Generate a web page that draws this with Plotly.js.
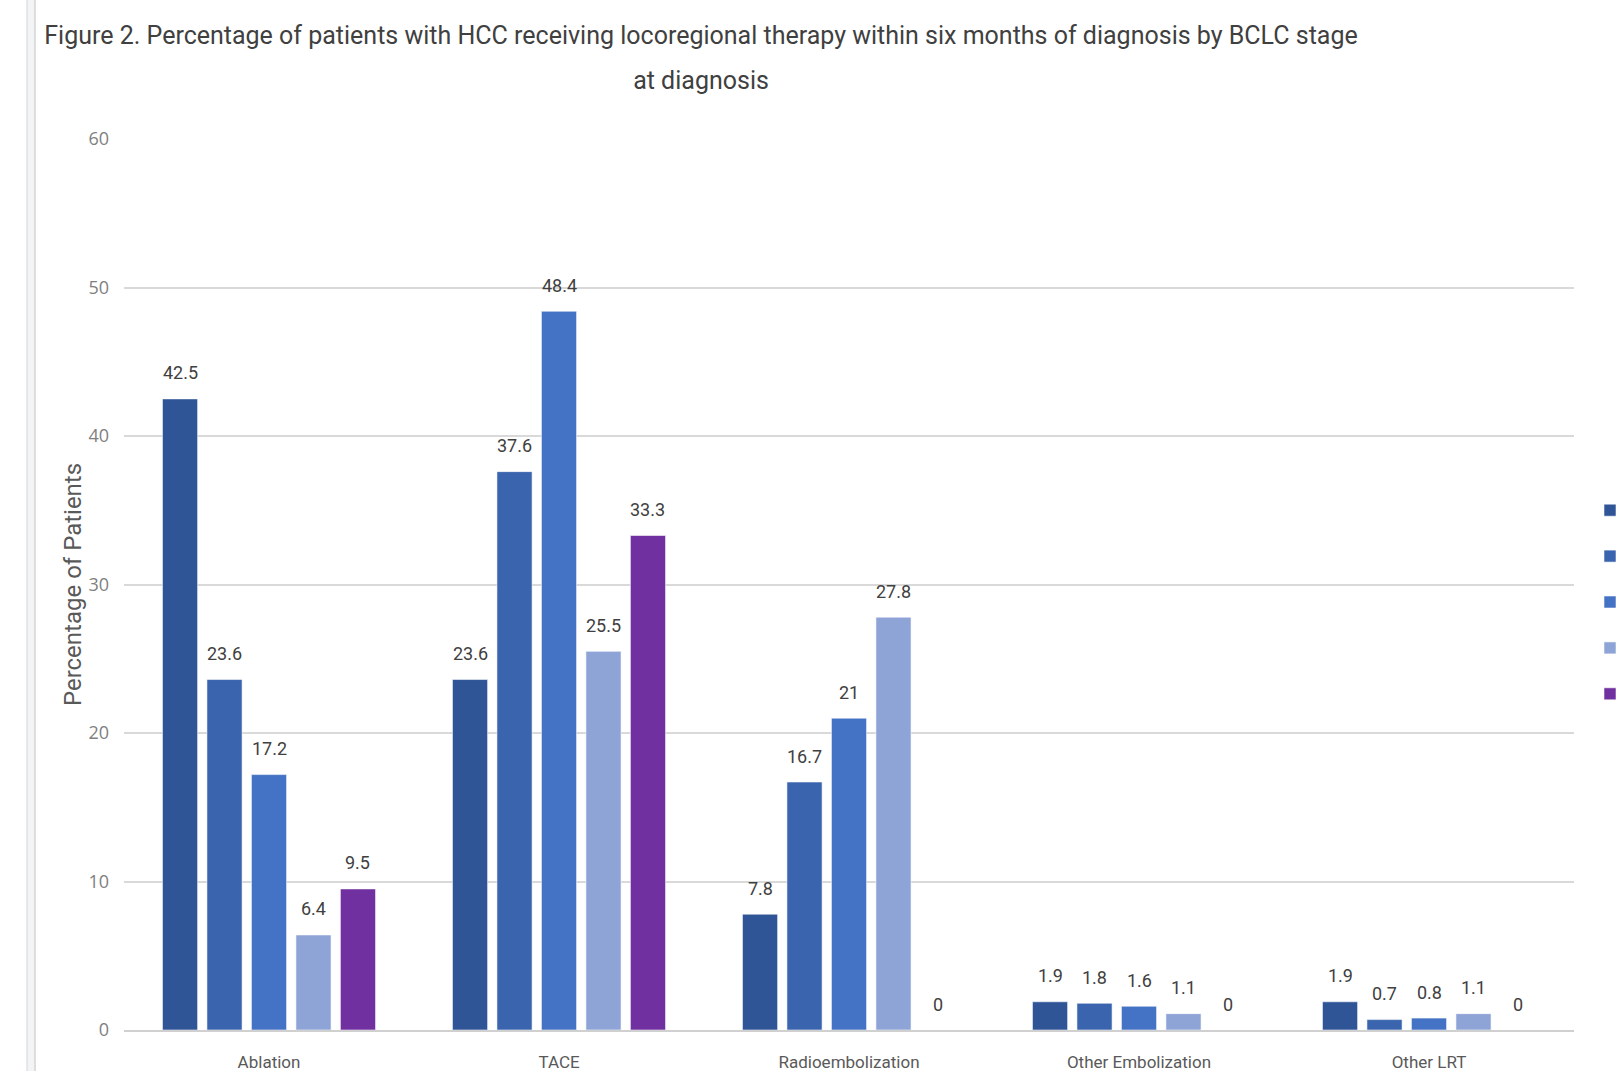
<!DOCTYPE html>
<html>
<head>
<meta charset="utf-8">
<script src="https://cdn.plot.ly/plotly-3.0.1.min.js"></script>
<style>
  html, body { margin: 0; padding: 0; background: #ffffff; overflow: hidden; }
  #wrap { width: 1622px; height: 1071px; overflow: hidden; position: relative; }
  #chart { width: 1760px; height: 1071px; }
</style>
</head>
<body>
<div id="wrap"><div id="chart"></div></div>
<script>
// ---- data ----
var categories = ["Ablation", "TACE", "Radioembolization", "Other Embolization", "Other LRT"];
var seriesNames = ["BCLC 0", "BCLC A", "BCLC B", "BCLC C", "BCLC D"];
var stage0 = [42.5, 23.6, 7.8, 1.9, 1.9];
var stageA = [23.6, 37.6, 16.7, 1.8, 0.7];
var stageB = [17.2, 48.4, 21, 1.6, 0.8];
var stageC = [6.4, 25.5, 27.8, 1.1, 1.1];
var stageD = [9.5, 33.3, 0, 0, 0];
var seriesColors = ["#2F5597", "#3A64AE", "#4472C4", "#8FA4D6", "#7030A0"];
var titleLine1 = "Figure 2. Percentage of patients with HCC receiving locoregional therapy within six months of diagnosis by BCLC stage";
var titleLine2 = "at diagnosis";
var yTitle = "Percentage of Patients";

// ---- layout constants ----
var W = 1760, H = 1071;
var M = {l: 124, r: 186, t: 139, b: 41};
var plotW = W - M.l - M.r;
var bargap = 0.233, bargroupgap = 0.21;
var font = "Roboto, 'Liberation Sans', sans-serif";

var allSeries = [stage0, stageA, stageB, stageC, stageD];
var traces = allSeries.map(function (vals, i) {
  return {
    type: "bar",
    name: seriesNames[i],
    x: categories,
    y: vals,
    legendgroup: "g" + i,
    marker: {color: seriesColors[i], line: {color: "rgba(255,255,255,0.55)", width: 1}},
    hoverinfo: "x+y+name"
  };
});

// data labels as annotations placed through the axes
var catPx = plotW / categories.length;
var slotPx = catPx * (1 - bargap) / allSeries.length;
var annotations = [];
allSeries.forEach(function (vals, i) {
  vals.forEach(function (v, j) {
    annotations.push({
      x: categories[j], y: v, xref: "x", yref: "y",
      text: String(v), showarrow: false,
      xshift: (i - (allSeries.length - 1) / 2) * slotPx,
      yshift: 26,
      font: {family: font, size: 18, color: "#404040"}
    });
  });
});

// left-edge pane border (screenshot frame)
var px2paper = function (p) { return (p - M.l) / plotW; };
var shapes = [
  {type: "rect", xref: "paper", yref: "paper", x0: px2paper(27), x1: px2paper(35), y0: -0.2, y1: 1.2,
   fillcolor: "#f3f4f6", line: {width: 0}, layer: "below"},
  {type: "line", xref: "paper", yref: "paper", x0: px2paper(35), x1: px2paper(35), y0: -0.2, y1: 1.2,
   line: {color: "#d4d4d4", width: 1.5}},
  {type: "line", xref: "paper", yref: "paper", x0: px2paper(27), x1: px2paper(27), y0: -0.2, y1: 1.2,
   line: {color: "#d4d4d4", width: 1}}
];

var layout = {
  width: W, height: H,
  margin: M,
  paper_bgcolor: "#ffffff", plot_bgcolor: "#ffffff",
  barmode: "group", bargap: bargap, bargroupgap: bargroupgap,
  title: {
    text: "<span style='font-size:25px'>" + titleLine1 + "</span><br><span style='font-size:25px'>" + titleLine2 + "</span>",
    x: px2paper(701), xref: "paper", xanchor: "center",
    y: 1 - 43.5 / H, yref: "container", yanchor: "middle",
    font: {family: font, size: 35, color: "#404040"}
  },
  xaxis: {
    type: "category",
    showgrid: false, zeroline: false,
    showline: true, linecolor: "#d0d0d0", linewidth: 2,
    ticks: "", ticklabelstandoff: 16,
    tickfont: {family: font, size: 17, color: "#595959"}
  },
  yaxis: {
    range: [0, 60], dtick: 10, tick0: 0,
    showgrid: true, gridcolor: "#d9d9d9", gridwidth: 1.5,
    zeroline: false, showline: false,
    ticks: "", ticklabelstandoff: 14,
    tickfont: {family: "'Open Sans', sans-serif", size: 18, color: "#7f7f7f"},
    title: {text: yTitle, standoff: 0, font: {family: font, size: 24, color: "#595959"}}
  },
  legend: {
    x: px2paper(1590), xref: "paper", xanchor: "left",
    y: 1 - (504 - M.t - 12) / (H - M.t - M.b), yanchor: "top",
    traceorder: "grouped", tracegroupgap: 19.5,
    font: {family: font, size: 18, color: "#595959"},
    bgcolor: "rgba(0,0,0,0)"
  },
  annotations: annotations,
  shapes: shapes,
  showlegend: true
};

Plotly.newPlot("chart", traces, layout, {displayModeBar: false, responsive: false});
</script>
</body>
</html>
